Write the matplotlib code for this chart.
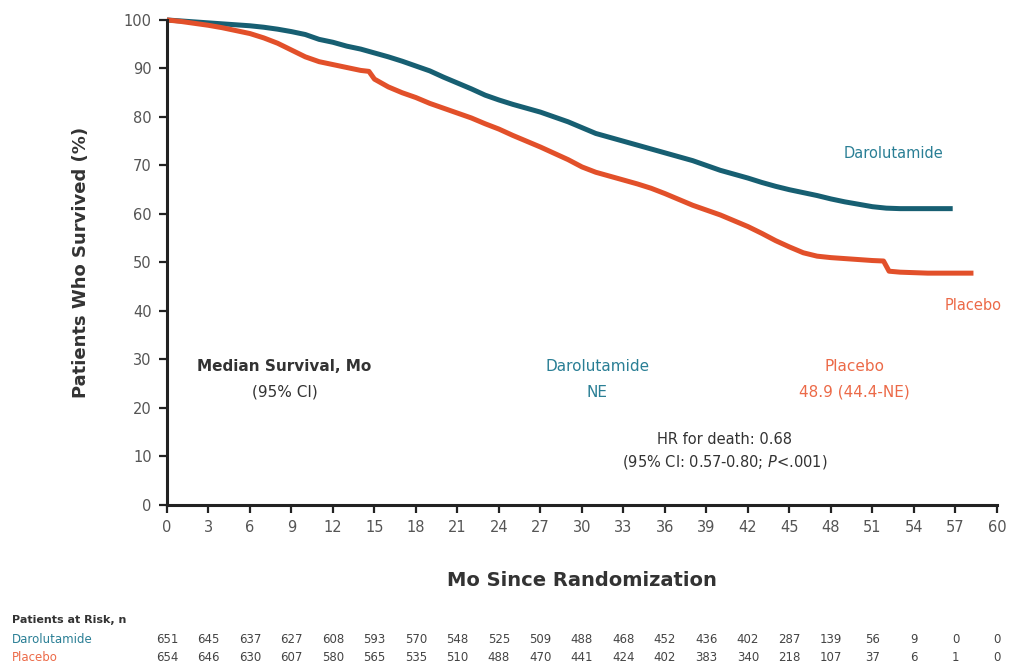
import numpy as np
import matplotlib.pyplot as plt
from matplotlib.transforms import blended_transform_factory

# survival curves (months, % surviving)
daro_t = [0, 1, 2, 3, 4, 5, 6, 7, 8, 9, 10, 11, 12, 13, 14, 15, 16, 17, 18, 19,
          20, 21, 22, 23, 24, 25, 26, 27, 28, 29, 30, 31, 32, 33, 34, 35, 36, 37,
          38, 39, 40, 41, 42, 43, 44, 45, 46, 47, 48, 49, 50, 51, 52, 53, 54, 55,
          56, 56.8]
daro_s = [100, 99.8, 99.6, 99.4, 99.2, 99.0, 98.8, 98.5, 98.1, 97.6, 97.0, 96.0,
          95.4, 94.6, 94.0, 93.2, 92.4, 91.5, 90.5, 89.5, 88.2, 87.0, 85.8, 84.5,
          83.5, 82.6, 81.8, 81.0, 80.0, 79.0, 77.8, 76.6, 75.8, 75.0, 74.2, 73.4,
          72.6, 71.8, 71.0, 70.0, 69.0, 68.2, 67.4, 66.5, 65.7, 65.0, 64.4, 63.8,
          63.1, 62.5, 62.0, 61.5, 61.2, 61.1, 61.1, 61.1, 61.1, 61.1]

plac_t = [0, 1, 2, 3, 4, 5, 6, 7, 8, 9, 10, 11, 12, 13, 14, 14.6, 15, 16, 17,
          18, 19, 20, 21, 22, 23, 24, 25, 26, 27, 28, 29, 30, 31, 32, 33, 34, 35,
          36, 37, 38, 39, 40, 41, 42, 43, 44, 45, 46, 47, 48, 49, 50, 51, 51.8,
          52.2, 53, 54, 55, 56, 57, 58.3]
plac_s = [100, 99.7, 99.3, 98.9, 98.4, 97.8, 97.2, 96.3, 95.2, 93.8, 92.4, 91.4,
          90.8, 90.2, 89.6, 89.4, 87.8, 86.2, 85.0, 84.0, 82.8, 81.8, 80.8, 79.8,
          78.6, 77.5, 76.2, 75.0, 73.8, 72.5, 71.2, 69.7, 68.6, 67.8, 67.0, 66.2,
          65.3, 64.2, 63.0, 61.8, 60.8, 59.8, 58.6, 57.4, 56.0, 54.5, 53.2, 52.0,
          51.3, 51.0, 50.8, 50.6, 50.4, 50.3, 48.2, 48.0, 47.9, 47.8, 47.8, 47.8,
          47.8]

risk_months = list(range(0, 61, 3))
daro_risk = [651, 645, 637, 627, 608, 593, 570, 548, 525, 509, 488, 468, 452,
             436, 402, 287, 139, 56, 9, 0, 0]
plac_risk = [654, 646, 630, 607, 580, 565, 535, 510, 488, 470, 441, 424, 402,
             383, 340, 218, 107, 37, 6, 1, 0]

teal = '#175f72'
teal_txt = '#2a7f95'
red = '#e2502a'
red_txt = '#ec6a48'
grey = '#555555'

fig = plt.figure(figsize=(10.1, 6.7), dpi=100)
ax = fig.add_axes([0.1653, 0.2463, 0.8218, 0.7239])

ax.plot(daro_t, daro_s, color=teal, lw=3.6, clip_on=False,
        solid_capstyle='butt', solid_joinstyle='round')
ax.plot(plac_t, plac_s, color=red, lw=3.6, clip_on=False,
        solid_capstyle='butt', solid_joinstyle='round')

ax.set_xlim(0, 60)
ax.set_ylim(0, 100)
ax.set_xticks(risk_months)
ax.set_yticks(range(0, 101, 10))
ax.tick_params(direction='out', length=6, width=1.6, color='#222222',
               labelsize=10.5, labelcolor=grey, pad=5)
for side in ['top', 'right']:
    ax.spines[side].set_visible(False)
for side in ['left', 'bottom']:
    ax.spines[side].set_linewidth(2.2)
    ax.spines[side].set_color('#222222')

ax.set_ylabel('Patients Who Survived (%)', fontsize=13, fontweight='bold',
              color='#333333', labelpad=24)
ax.set_xlabel('Mo Since Randomization', fontsize=14, fontweight='bold',
              color='#333333', labelpad=26)

# curve labels
ax.text(52.5, 71.5, 'Darolutamide', color=teal_txt, fontsize=10.5, ha='center')
ax.text(58.3, 40.3, 'Placebo', color=red_txt, fontsize=10.5, ha='center')

# median survival summary
ax.text(8.5, 28.5, 'Median Survival, Mo', fontsize=11, fontweight='bold',
        color='#333333', ha='center', va='center')
ax.text(8.5, 23.2, '(95% CI)', fontsize=11, color='#333333',
        ha='center', va='center')
ax.text(31.1, 28.5, 'Darolutamide', fontsize=11, color=teal_txt,
        ha='center', va='center')
ax.text(31.1, 23.2, 'NE', fontsize=11, color=teal_txt, ha='center', va='center')
ax.text(49.7, 28.5, 'Placebo', fontsize=11, color=red_txt, ha='center', va='center')
ax.text(49.7, 23.2, '48.9 (44.4-NE)', fontsize=11, color=red_txt,
        ha='center', va='center')

ax.text(40.3, 13.5, 'HR for death: 0.68', fontsize=10.5, color='#333333',
        ha='center', va='center')
ax.text(40.3, 8.8, '(95% CI: 0.57-0.80; $\\it{P}$<.001)', fontsize=10.5,
        color='#333333', ha='center', va='center')

# patients at risk table
tr = blended_transform_factory(ax.transData, fig.transFigure)
fig.text(0.012, 0.074, 'Patients at Risk, n', fontsize=8, fontweight='bold',
         color='#333333', va='center')
fig.text(0.012, 0.045, 'Darolutamide', fontsize=8.5, color=teal_txt, va='center')
fig.text(0.012, 0.018, 'Placebo', fontsize=8.5, color=red_txt, va='center')
for m, d, p in zip(risk_months, daro_risk, plac_risk):
    ax.text(m, 0.045, str(d), transform=tr, fontsize=8.5, color='#444444',
            ha='center', va='center', clip_on=False)
    ax.text(m, 0.018, str(p), transform=tr, fontsize=8.5, color='#444444',
            ha='center', va='center', clip_on=False)

fig.savefig('out.png', dpi=100)
